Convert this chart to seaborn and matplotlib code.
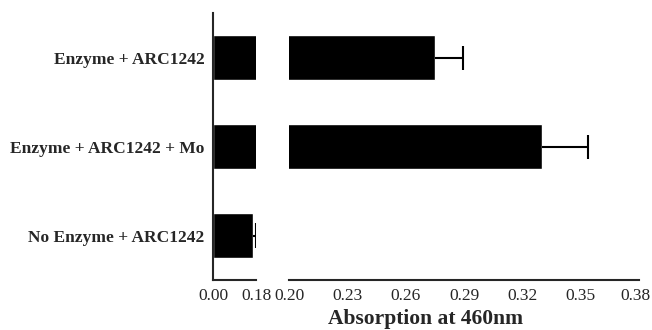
import matplotlib
matplotlib.use('Agg')
import matplotlib.pyplot as plt
import matplotlib.transforms as mtransforms
import numpy as np
import seaborn as sns

sns.set_style('white')
plt.rcParams['font.family'] = ['Liberation Serif', 'DejaVu Serif']

# data
conditions = ['Enzyme + ARC1242', 'Enzyme + ARC1242 + Mo', 'No Enzyme + ARC1242']
absorption = [0.275, 0.330, 0.169]
errors = [0.0145, 0.024, 0.011]
left_ticks = [0.00, 0.18]
right_ticks = [0.20, 0.23, 0.26, 0.29, 0.32, 0.35, 0.38]

fig = plt.figure(figsize=(6.52, 3.3), dpi=100)
ax1 = fig.add_axes([0.3267, 0.1515, 0.066, 0.809])
ax2 = fig.add_axes([0.4433, 0.1515, 0.5368, 0.809])

ypos = np.arange(len(conditions))
upper = np.array(absorption) + np.array(errors)
for ax in (ax1, ax2):
    sns.barplot(x=absorption, y=conditions, orient='h', color='black',
                width=0.5, ax=ax, errorbar=None, saturation=1)
    # one-sided error bars (upper side only)
    ax.hlines(ypos, absorption, upper, color='black', lw=1.5)
    ax.vlines(upper, ypos - 0.135, ypos + 0.135, color='black', lw=1.5)
    ax.set_ylim(2.5, -0.5)
    for s in ('top', 'right'):
        ax.spines[s].set_visible(False)
    ax.spines['bottom'].set_linewidth(1.5)
    ax.tick_params(axis='x', direction='inout', length=7, width=1.5, labelsize=12.5, pad=2)

ax1.set_xlim(left_ticks[0], left_ticks[-1])
ax1.set_xticks(left_ticks)
ax1.set_xticklabels([f'{t:.2f}' for t in left_ticks])
ax1.spines['left'].set_linewidth(1.5)
ax1.tick_params(axis='y', direction='out', length=4, width=1.5, labelsize=12.5, pad=2)
for lbl in ax1.get_yticklabels():
    lbl.set_fontweight('bold')
ax1.set_ylabel('')

ax2.set_xlim(right_ticks[0], right_ticks[-1])
ax2.set_xticks(right_ticks)
ax2.set_xticklabels([f'{t:.2f}' for t in right_ticks])
ax2.spines['left'].set_visible(False)
ax2.set_yticks([])
ax2.set_ylabel('')

# nudge the last label left so it stays inside the figure
last = ax2.get_xticklabels()[-1]
last.set_transform(last.get_transform() +
                   mtransforms.ScaledTranslation(-0.04, 0, fig.dpi_scale_trans))

fig.text(0.652, 0.018, 'Absorption at 460nm', ha='center', va='baseline',
         fontsize=15.5, fontweight='bold')

plt.savefig('out.png', dpi=100)
